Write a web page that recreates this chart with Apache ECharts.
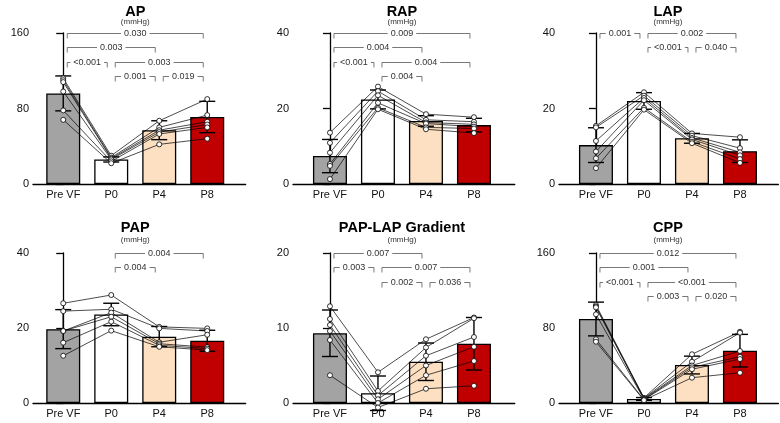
<!DOCTYPE html>
<html>
<head>
<meta charset="utf-8">
<script src="https://cdn.jsdelivr.net/npm/echarts@6/dist/echarts.min.js"></script>
<style>html,body{margin:0;background:#fff}#main{width:780px;height:423px}</style>
</head>
<body>
<div id="main"></div>
<script>
var categories = ['Pre VF', 'P0', 'P4', 'P8'];
var barColors = ['#a3a3a3', '#ffffff', '#fde0c2', '#c00000'];

// AP
var apMean = [96, 26, 57, 71];
var apSD = [18.5, 2.7, 10, 16.6];
var apPreVF = [112, 110, 108, 98, 78, 68];
var apP0 = [30, 28, 27, 26, 24, 22];
var apP4 = [67, 60, 57, 55, 53, 42];
var apP8 = [90, 73, 66, 63, 60, 48];
var apBrackets = [[0, 3, 160, '0.030'], [0, 2, 144.8, '0.003'], [0, 1, 129.6, '<0.001'], [1, 3, 129.6, '0.003'], [1, 2, 114.4, '0.001'], [2, 3, 114.4, '0.019']];

// RAP
var rapMean = [7.4, 22.4, 16.7, 15.6];
var rapSD = [4.4, 2.5, 1.4, 1.8];
var rapPreVF = [13.6, 10.9, 8.3, 5.3, 4.8, 1.3];
var rapP0 = [25.8, 24.6, 23.5, 21.5, 20.2, 19.8];
var rapP4 = [18.5, 17.0, 16.3, 16.0, 15.0, 14.5];
var rapP8 = [17.7, 16.5, 15.8, 15.2, 14.7, 13.5];
var rapBrackets = [[0, 3, 40, '0.009'], [0, 2, 36.2, '0.004'], [0, 1, 32.4, '<0.001'], [1, 3, 32.4, '0.004'], [1, 2, 28.6, '0.004']];

// LAP
var lapMean = [10.3, 22.0, 12.1, 8.7];
var lapSD = [4.6, 2.2, 1.3, 3.0];
var lapPreVF = [15.4, 15.0, 11.4, 8.6, 6.8, 4.2];
var lapP0 = [24.3, 23.4, 22.8, 22.2, 20.2, 19.7];
var lapP4 = [13.4, 12.8, 12.2, 11.8, 11.2, 10.8];
var lapP8 = [12.4, 9.5, 8.4, 7.6, 6.6, 5.6];
var lapBrackets = [[0, 1, 40, '0.001'], [1, 3, 40, '0.002'], [1, 2, 36.2, '<0.001'], [2, 3, 36.2, '0.040']];

// PAP
var papMean = [19.7, 23.6, 17.7, 16.6];
var papSD = [5.2, 3.0, 2.7, 2.8];
var papPreVF = [26.6, 24.5, 19.2, 19.2, 16.1, 12.6];
var papP0 = [28.8, 25.0, 24.1, 23.0, 21.7, 19.3];
var papP4 = [20.3, 19.9, 16.2, 15.8, 15.4, 15.0];
var papP8 = [19.9, 19.2, 18.2, 14.9, 14.5, 14.1];
var papBrackets = [[1, 3, 40, '0.004'], [1, 2, 36.2, '0.004']];

// PAP-LAP Gradient
var gradMean = [9.3, 1.3, 5.5, 7.9];
var gradSD = [3.1, 2.3, 2.5, 3.5];
var gradPreVF = [12.9, 11.2, 10.4, 9.6, 8.4, 3.7];
var gradP0 = [4.1, 1.6, 1.0, 0.5, 0.0, -0.6];
var gradP4 = [8.5, 7.4, 6.3, 5.0, 3.7, 1.9];
var gradP8 = [11.4, 11.3, 8.8, 7.5, 5.6, 2.3];
var gradBrackets = [[0, 2, 20, '0.007'], [0, 1, 18.1, '0.003'], [1, 3, 18.1, '0.007'], [1, 2, 16.2, '0.002'], [2, 3, 16.2, '0.036']];

// CPP
var cppMean = [89.6, 4.3, 40.5, 55.8];
var cppSD = [18, 1.5, 9.5, 17.4];
var cppPreVF = [104.5, 103, 102, 94.6, 68, 65.4];
var cppP0 = [5.5, 5, 4.5, 4, 3.5, 3];
var cppP4 = [52, 44, 40, 38, 36, 27];
var cppP8 = [76, 75, 55.5, 49.4, 46.9, 32.3];
var cppBrackets = [[0, 3, 160, '0.012'], [0, 2, 144.8, '0.001'], [0, 1, 129.6, '<0.001'], [1, 3, 129.6, '<0.001'], [1, 2, 114.4, '0.003'], [2, 3, 114.4, '0.020']];

var FONT = '"Liberation Sans", Arial, sans-serif';
var STEP = 48; // px between category centres

var panels = [
    {title: 'AP', max: 160, mean: apMean, sd: apSD, pts: [apPreVF, apP0, apP4, apP8], br: apBrackets, left: 33, top: 33, h: 151, xmin: -0.63, xmax: 3.8, ty: 11.5},
    {title: 'RAP', max: 40, mean: rapMean, sd: rapSD, pts: [rapPreVF, rapP0, rapP4, rapP8], br: rapBrackets, left: 293, top: 33, h: 151, xmin: -0.77, xmax: 3.85, ty: 11.5},
    {title: 'LAP', max: 40, mean: lapMean, sd: lapSD, pts: [lapPreVF, lapP0, lapP4, lapP8], br: lapBrackets, left: 559, top: 33, h: 151, xmin: -0.77, xmax: 3.8, ty: 11.5},
    {title: 'PAP', max: 40, mean: papMean, sd: papSD, pts: [papPreVF, papP0, papP4, papP8], br: papBrackets, left: 33, top: 253, h: 150, xmin: -0.63, xmax: 3.8, ty: 228},
    {title: 'PAP-LAP Gradient', max: 20, mean: gradMean, sd: gradSD, pts: [gradPreVF, gradP0, gradP4, gradP8], br: gradBrackets, left: 293, top: 253, h: 150, xmin: -0.77, xmax: 3.85, ty: 228},
    {title: 'CPP', max: 160, mean: cppMean, sd: cppSD, pts: [cppPreVF, cppP0, cppP4, cppP8], br: cppBrackets, left: 559, top: 253, h: 150, xmin: -0.77, xmax: 3.8, ty: 228}
];

var grids = [], xAxes = [], yAxes = [], series = [], graphics = [];

function errItem(params, api) {
    var x = api.value(0), m = api.value(1), s = api.value(2);
    var hi = api.coord([x, m + s]), lo = api.coord([x, m - s]);
    var w = 8, st = {stroke: '#000', lineWidth: 1.4};
    return {
        type: 'group', children: [
            {type: 'line', shape: {x1: hi[0], y1: hi[1], x2: lo[0], y2: lo[1]}, style: st},
            {type: 'line', shape: {x1: hi[0] - w, y1: hi[1], x2: hi[0] + w, y2: hi[1]}, style: st},
            {type: 'line', shape: {x1: lo[0] - w, y1: lo[1], x2: lo[0] + w, y2: lo[1]}, style: st}
        ]
    };
}

function bracketRenderer(list) {
    return function (params, api) {
        var a = api.coord([api.value(0), api.value(2)]);
        var b = api.coord([api.value(1), api.value(2)]);
        var x1 = a[0] + 4, x2 = b[0] - 4, y = Math.round(a[1]) + 0.5;
        return {
            type: 'group', children: [
                {type: 'polyline', shape: {points: [[x1, y + 5], [x1, y], [x2, y], [x2, y + 5]]},
                    style: {stroke: '#555', lineWidth: 0.8, fill: null}},
                {type: 'text', x: (x1 + x2) / 2, y: y, z2: 10,
                    style: {text: list[params.dataIndex][3], fill: '#333', font: '9px ' + FONT,
                        align: 'center', verticalAlign: 'middle', backgroundColor: '#fff', padding: [1, 3]}}
            ]
        };
    };
}

panels.forEach(function (p, k) {
    var width = STEP * (p.xmax - p.xmin);
    grids.push({left: p.left, top: p.top, width: width, height: p.h});
    xAxes.push({
        gridIndex: k, type: 'value', min: p.xmin, max: p.xmax,
        axisLine: {show: true, lineStyle: {color: '#000', width: 1.3}},
        axisTick: {show: false}, splitLine: {show: false},
        axisLabel: {
            customValues: [0, 1, 2, 3], color: '#111', fontSize: 11, fontFamily: FONT, margin: 5,
            formatter: function (v) { return categories[Math.round(v)]; }
        }
    });
    yAxes.push({
        gridIndex: k, type: 'value', min: 0, max: p.max, interval: p.max / 2,
        axisLine: {show: true, lineStyle: {color: '#000', width: 1.3}},
        axisTick: {show: true, length: 7, lineStyle: {color: '#000', width: 1.3}},
        splitLine: {show: false},
        axisLabel: {color: '#111', fontSize: 11, fontFamily: FONT, margin: 4}
    });
    series.push({
        type: 'bar', xAxisIndex: k, yAxisIndex: k, barWidth: 34, z: 2,
        data: p.mean.map(function (m, i) {
            return {value: [i, m], itemStyle: {color: barColors[i], borderColor: '#000', borderWidth: 1.3}};
        })
    });
    series.push({
        type: 'custom', xAxisIndex: k, yAxisIndex: k, z: 3, renderItem: errItem,
        encode: {x: 0, y: 1},
        data: p.mean.map(function (m, i) { return [i, m, p.sd[i]]; })
    });
    for (var s = 0; s < p.pts[0].length; s++) {
        series.push({
            type: 'line', xAxisIndex: k, yAxisIndex: k, z: 4, clip: false,
            symbol: 'circle', symbolSize: 5, showSymbol: true,
            lineStyle: {color: '#000', width: 0.7},
            itemStyle: {color: '#fff', borderColor: '#000', borderWidth: 0.8},
            data: categories.map(function (c, i) { return [i, p.pts[i][s]]; })
        });
    }
    series.push({
        type: 'custom', xAxisIndex: k, yAxisIndex: k, z: 5, clip: false,
        renderItem: bracketRenderer(p.br), encode: {x: [0, 1], y: 2},
        data: p.br.map(function (b) { return [b[0], b[1], b[2]]; })
    });
    var cx = p.left + STEP * (1.5 - p.xmin);
    graphics.push({type: 'text', x: cx, y: p.ty,
        style: {text: p.title, font: 'bold 14.5px ' + FONT, fill: '#000', align: 'center', verticalAlign: 'middle'}});
    graphics.push({type: 'text', x: cx, y: p.ty + (k < 3 ? 10.5 : 12),
        style: {text: '(mmHg)', font: '8px ' + FONT, fill: '#333', align: 'center', verticalAlign: 'middle'}});
});

var chart = echarts.init(document.getElementById('main'));
chart.setOption({
    animation: false,
    backgroundColor: '#fff',
    grid: grids, xAxis: xAxes, yAxis: yAxes,
    series: series,
    graphic: graphics
});
</script>
</body>
</html>
